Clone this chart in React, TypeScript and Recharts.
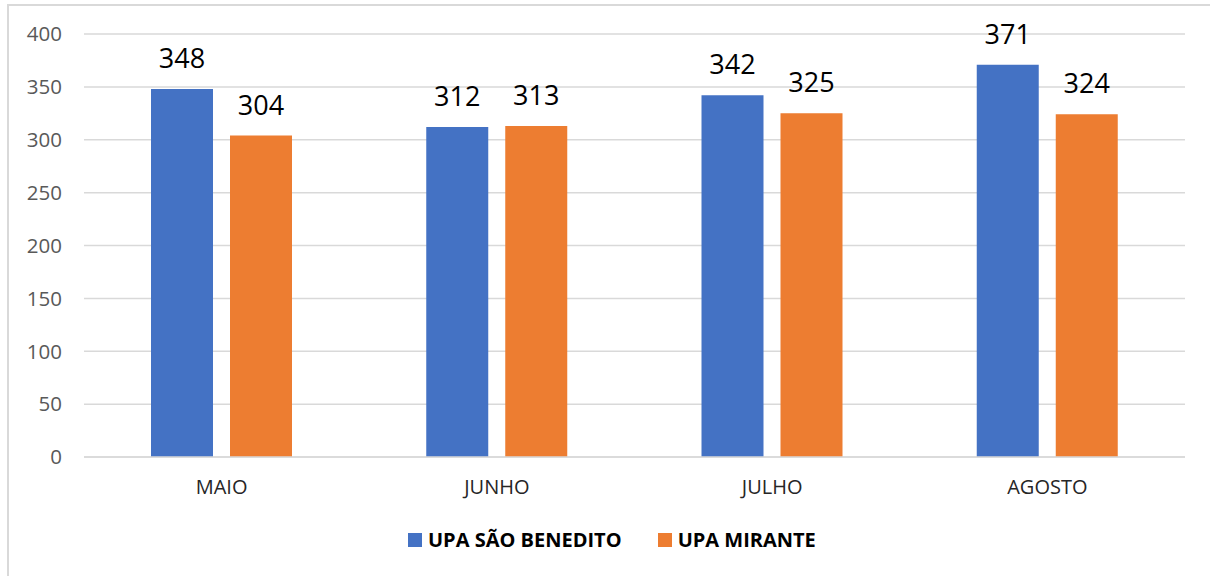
import { BarChart, Bar, XAxis, YAxis, CartesianGrid, LabelList } from "recharts";

const months = ["MAIO", "JUNHO", "JULHO", "AGOSTO"];
const saoBenedito = [348, 312, 342, 371];
const mirante = [304, 313, 325, 324];
const yTicks = [0, 50, 100, 150, 200, 250, 300, 350, 400];

const SERIES = [
  { key: "saoBenedito", name: "UPA SÃO BENEDITO", color: "#4472C4" },
  { key: "mirante", name: "UPA MIRANTE", color: "#ED7D31" },
];

const FONT = "'Open Sans', 'Noto Sans', sans-serif";

const data = months.map((m, i) => ({
  month: m,
  saoBenedito: saoBenedito[i],
  mirante: mirante[i],
}));

export default function App() {
  return (
    <div
      style={{
        position: "absolute",
        left: 0,
        top: 0,
        width: 1210,
        height: 576,
        overflow: "hidden",
        background: "#fff",
        fontFamily: FONT,
      }}
    >
      {/* frame, runs off the right and bottom edges like the source */}
      <div
        style={{
          position: "absolute",
          left: 7,
          top: 4,
          width: 1230,
          height: 600,
          border: "2px solid #d9d9d9",
          boxSizing: "border-box",
        }}
      />

      <div style={{ position: "absolute", left: 0, top: 0 }}>
        <BarChart
          width={1210}
          height={576}
          data={data}
          margin={{ top: 34, right: 25, left: 10, bottom: 0 }}
          barSize={62}
          barGap={17}
        >
          <CartesianGrid vertical={false} stroke="#d9d9d9" strokeWidth={1.5} />
          <XAxis
            dataKey="month"
            height={119}
            axisLine={{ stroke: "#d9d9d9", strokeWidth: 1.5 }}
            tickLine={false}
            tickMargin={17}
            tick={{ fill: "#262626", fontSize: 20, fontFamily: FONT }}
          />
          <YAxis
            width={74}
            domain={[0, 400]}
            ticks={yTicks}
            interval={0}
            axisLine={false}
            tickLine={false}
            tickMargin={16}
            tick={{ fill: "#595959", fontSize: 20.5, fontFamily: FONT }}
          />
          {SERIES.map((s) => (
            <Bar key={s.key} dataKey={s.key} name={s.name} fill={s.color} isAnimationActive={false}>
              <LabelList
                dataKey={s.key}
                position="top"
                offset={21}
                style={{ fill: "#000", fontSize: 27, fontFamily: FONT }}
              />
            </Bar>
          ))}
        </BarChart>
      </div>

      {/* legend */}
      <div
        style={{
          position: "absolute",
          left: 408,
          top: 526,
          display: "flex",
          alignItems: "center",
          gap: 36,
          fontWeight: 700,
          fontSize: 20,
          color: "#000",
        }}
      >
        {SERIES.map((s) => (
          <div key={s.key} style={{ display: "flex", alignItems: "center", gap: 6 }}>
            <span style={{ display: "inline-block", width: 14, height: 14, background: s.color }} />
            <span>{s.name}</span>
          </div>
        ))}
      </div>
    </div>
  );
}
